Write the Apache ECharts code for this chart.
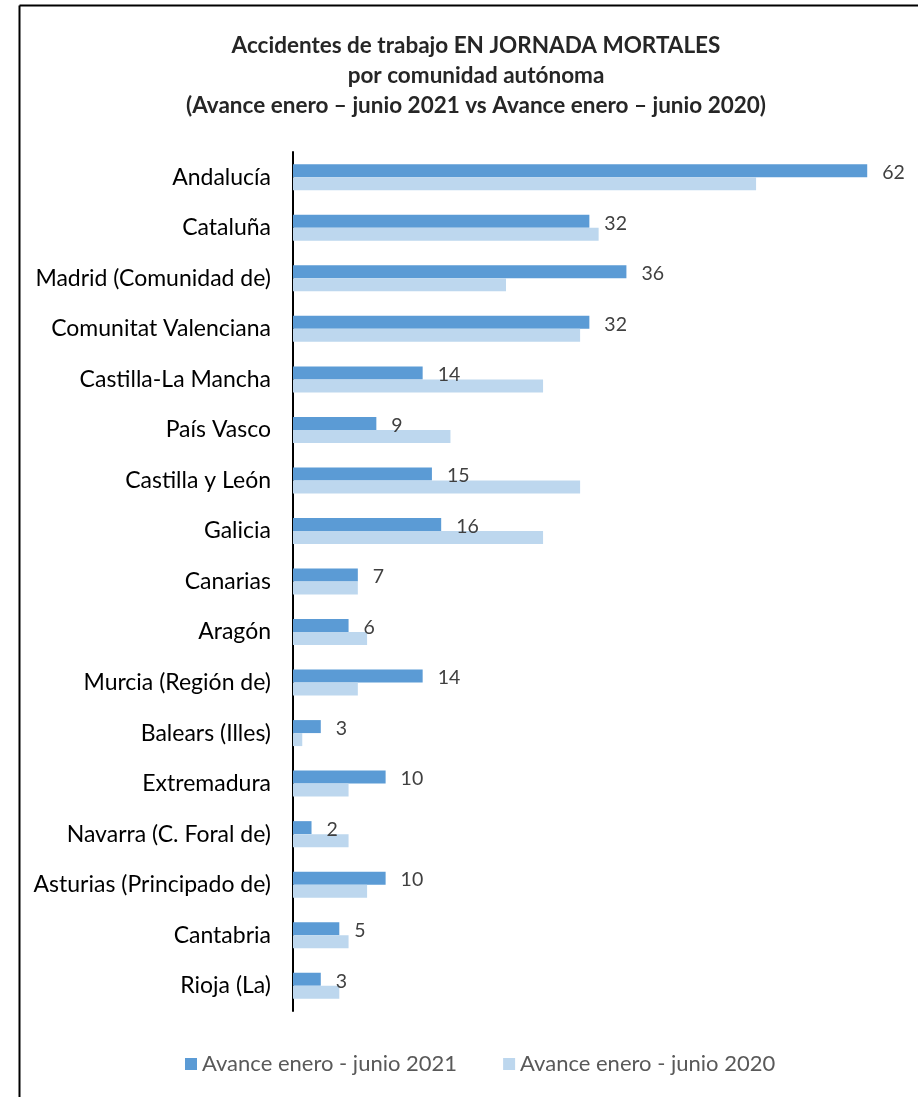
<!DOCTYPE html>
<html>
<head>
<meta charset="utf-8">
<style>html,body{margin:0;padding:0;background:#fff}#c{width:918px;height:1097px}</style>
<script src="https://cdn.jsdelivr.net/npm/echarts@6/dist/echarts.min.js"></script>
</head>
<body>
<div id="c"></div>
<script>
const categories = ["Andalucía","Cataluña","Madrid (Comunidad de)","Comunitat Valenciana","Castilla-La Mancha","País Vasco","Castilla y León","Galicia","Canarias","Aragón","Murcia (Región de)","Balears (Illes)","Extremadura","Navarra (C. Foral de)","Asturias (Principado de)","Cantabria","Rioja (La)"];
const values2021 = [62,32,36,32,14,9,15,16,7,6,14,3,10,2,10,5,3];
const values2020 = [50,33,23,31,27,17,31,27,7,8,7,1,6,6,8,6,5];
const seriesNames = ["Avance enero - junio 2021","Avance enero - junio 2020"];

const chart = echarts.init(document.getElementById('c'));
const font = 'Lato, "Open Sans", sans-serif';
chart.setOption({
  animation:false,
  backgroundColor:'#fff',
  title:{
    text:'Accidentes de trabajo EN JORNADA MORTALES\npor comunidad autónoma\n(Avance enero – junio 2021 vs Avance enero – junio 2020)',
    left:471, top:26, textAlign:'center',
    textStyle:{fontFamily:font,fontSize:22.5,fontWeight:'bold',color:'#262626',lineHeight:30}
  },
  legend:{
    top:1048, left:180, itemWidth:12, itemHeight:12, itemGap:46,
    icon:'rect',
    textStyle:{fontFamily:font,fontSize:22,color:'#595959'},
    data:seriesNames
  },
  graphic:[
    {type:'line',shape:{x1:19.5,y1:5.5,x2:918,y2:5.5},style:{stroke:'#000',lineWidth:2}},
    {type:'line',shape:{x1:19.5,y1:5.5,x2:19.5,y2:1097},style:{stroke:'#000',lineWidth:2}}
  ],
  grid:{left:293,right:23,top:152,bottom:86},
  xAxis:{type:'value',min:0,max:65,show:false},
  yAxis:{
    type:'category',inverse:true,data:categories,
    axisLine:{lineStyle:{color:'#000',width:2}},
    axisTick:{show:false},
    axisLabel:{fontFamily:font,fontSize:23,color:'#000',margin:22}
  },
  series:[
    {name:seriesNames[0],type:'bar',data:values2021,barWidth:13,barGap:'0%',barCategoryGap:'46%',
     itemStyle:{color:'#5B9BD5'},
     label:{show:true,position:'right',distance:15,offset:[0,2],fontFamily:font,fontSize:19.5,color:'#404040'}},
    {name:seriesNames[1],type:'bar',data:values2020,barWidth:13,
     itemStyle:{color:'#BDD7EE'}}
  ]
});
</script>
</body>
</html>
